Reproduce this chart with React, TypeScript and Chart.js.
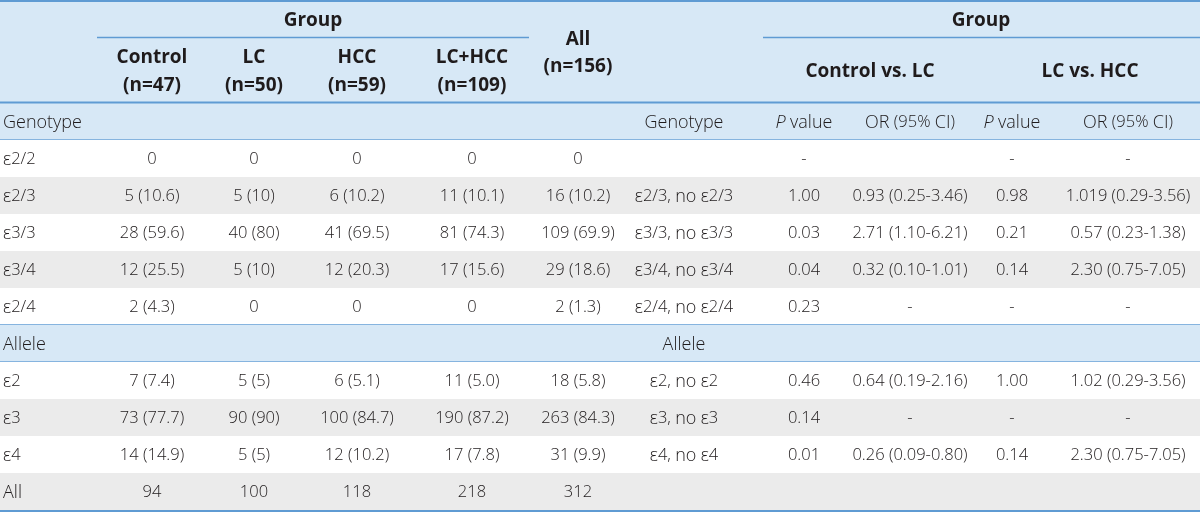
import React, { useEffect, useRef } from "react";
import { Chart, registerables } from "chart.js";

Chart.register(...registerables);

// ---------- table content ----------
const rowLabels = ["Genotype", "ε2/2", "ε2/3", "ε3/3", "ε3/4", "ε2/4", "Allele", "ε2", "ε3", "ε4", "All"];
const controlVals = ["", "0", "5 (10.6)", "28 (59.6)", "12 (25.5)", "2 (4.3)", "", "7 (7.4)", "73 (77.7)", "14 (14.9)", "94"];
const lcVals = ["", "0", "5 (10)", "40 (80)", "5 (10)", "0", "", "5 (5)", "90 (90)", "5 (5)", "100"];
const hccVals = ["", "0", "6 (10.2)", "41 (69.5)", "12 (20.3)", "0", "", "6 (5.1)", "100 (84.7)", "12 (10.2)", "118"];
const lcHccVals = ["", "0", "11 (10.1)", "81 (74.3)", "17 (15.6)", "0", "", "11 (5.0)", "190 (87.2)", "17 (7.8)", "218"];
const allVals = ["", "0", "16 (10.2)", "109 (69.9)", "29 (18.6)", "2 (1.3)", "", "18 (5.8)", "263 (84.3)", "31 (9.9)", "312"];
const comparisonLabels = ["Genotype", "", "ε2/3, no ε2/3", "ε3/3, no ε3/3", "ε3/4, no ε3/4", "ε2/4, no ε2/4", "Allele", "ε2, no ε2", "ε3, no ε3", "ε4, no ε4", ""];
const pCtrlLc = ["P value", "-", "1.00", "0.03", "0.04", "0.23", "", "0.46", "0.14", "0.01", ""];
const orCtrlLc = ["OR (95% CI)", "", "0.93 (0.25-3.46)", "2.71 (1.10-6.21)", "0.32 (0.10-1.01)", "-", "", "0.64 (0.19-2.16)", "-", "0.26 (0.09-0.80)", ""];
const pLcHcc = ["P value", "-", "0.98", "0.21", "0.14", "-", "", "1.00", "-", "0.14", ""];
const orLcHcc = ["OR (95% CI)", "-", "1.019 (0.29-3.56)", "0.57 (0.23-1.38)", "2.30 (0.75-7.05)", "-", "", "1.02 (0.29-3.56)", "-", "2.30 (0.75-7.05)", ""];

const groupHeaders = ["Group", "Group"];
const columnHeaders = [["Control", "(n=47)"], ["LC", "(n=50)"], ["HCC", "(n=59)"], ["LC+HCC", "(n=109)"]];
const allHeader = ["All", "(n=156)"];
const comparisonHeaders = ["Control vs. LC", "LC vs. HCC"];

const columns = [rowLabels, controlVals, lcVals, hccVals, lcHccVals, allVals, comparisonLabels, pCtrlLc, orCtrlLc, pLcHcc, orLcHcc];

// ---------- layout (scale units) ----------
const W = 1200;
const H = 513;
const COL_X = [3, 152, 254, 357, 472, 578, 684, 804, 910, 1012, 1128];
const HEADER_BOTTOM = 103;
const ROW_H = 37;
const SECTION_ROWS = [0, 6];
const GREY_ROWS = [2, 4, 8, 10];

const BLUE_BG = "#d7e8f6";
const GREY_BG = "#ebebeb";
const LINE = "#5f9bd3";
const LINE_LIGHT = "#86b4df";
const TEXT = "#1f1b1c";
const FONT = "'Open Sans', 'Noto Sans', sans-serif";
const NUM_SIZE = 16.5;
const LETTER_SIZE = 18;

type Run = { text: string; font: string };

const NUM_RE = /[0-9.()\-\s,=+%/]/;

function splitRuns(txt: string, italicFirst: boolean): Run[] {
  const runs: Run[] = [];
  const chars = Array.from(txt);
  chars.forEach((ch, i) => {
    const isNum = NUM_RE.test(ch);
    const italic = italicFirst && i === 0;
    const font = `${italic ? "italic " : ""}300 ${isNum ? NUM_SIZE : LETTER_SIZE}px ${FONT}`;
    const last = runs[runs.length - 1];
    if (last && last.font === font) last.text += ch;
    else runs.push({ text: ch, font });
  });
  return runs;
}

function drawRuns(ctx: CanvasRenderingContext2D, txt: string, x: number, y: number, align: "left" | "center", italicFirst: boolean) {
  const runs = splitRuns(txt, italicFirst);
  let total = 0;
  const widths = runs.map((r) => {
    ctx.font = r.font;
    const w = ctx.measureText(r.text).width;
    total += w;
    return w;
  });
  let cx = align === "center" ? x - total / 2 : x;
  ctx.textAlign = "left";
  runs.forEach((r, i) => {
    ctx.font = r.font;
    ctx.fillText(r.text, cx, y);
    cx += widths[i];
  });
}

const tablePlugin = {
  id: "tablePlugin",
  beforeDatasetsDraw(chart: any) {
    const { ctx } = chart;
    const xs = chart.scales.x;
    const ys = chart.scales.y;
    const px = (v: number) => xs.getPixelForValue(v);
    const py = (v: number) => ys.getPixelForValue(v);
    ctx.save();
    ctx.fillStyle = BLUE_BG;
    ctx.fillRect(px(0), py(0), px(W) - px(0), py(HEADER_BOTTOM) - py(0));
    for (let i = 0; i < rowLabels.length; i++) {
      const top = HEADER_BOTTOM + i * ROW_H;
      let fill = "#ffffff";
      if (SECTION_ROWS.includes(i)) fill = BLUE_BG;
      else if (GREY_ROWS.includes(i)) fill = GREY_BG;
      ctx.fillStyle = fill;
      ctx.fillRect(px(0), py(top), px(W) - px(0), py(top + ROW_H) - py(top));
    }
    const hline = (y: number, x0: number, x1: number, color: string, w: number) => {
      ctx.strokeStyle = color;
      ctx.lineWidth = w;
      ctx.beginPath();
      ctx.moveTo(px(x0), py(y));
      ctx.lineTo(px(x1), py(y));
      ctx.stroke();
    };
    hline(1, 0, W, LINE, 2);
    hline(37.5, 97, 529, LINE, 1.5);
    hline(37.5, 763, W, LINE, 1.5);
    hline(102.5, 0, W, LINE, 2);
    for (const s of SECTION_ROWS) {
      const top = HEADER_BOTTOM + s * ROW_H;
      if (s > 0) hline(top - 0.5, 0, W, LINE_LIGHT, 1);
      hline(top + ROW_H - 0.5, 0, W, LINE_LIGHT, 1);
    }
    hline(HEADER_BOTTOM + rowLabels.length * ROW_H + 1, 0, W, LINE, 2);
    ctx.restore();
  },
  afterDatasetsDraw(chart: any) {
    const { ctx } = chart;
    const xs = chart.scales.x;
    const ys = chart.scales.y;
    const px = (v: number) => xs.getPixelForValue(v);
    const py = (v: number) => ys.getPixelForValue(v);
    ctx.save();
    ctx.fillStyle = TEXT;
    ctx.textBaseline = "middle";
    ctx.font = `bold 19px ${FONT}`;
    ctx.textAlign = "center";
    ctx.fillText(groupHeaders[0], px(313), py(21));
    ctx.fillText(groupHeaders[1], px(981), py(21));
    columnHeaders.forEach((h, j) => {
      ctx.fillText(h[0], px(COL_X[j + 1]), py(58));
      ctx.fillText(h[1], px(COL_X[j + 1]), py(86));
    });
    ctx.fillText(allHeader[0], px(COL_X[5]), py(40));
    ctx.fillText(allHeader[1], px(COL_X[5]), py(67));
    ctx.fillText(comparisonHeaders[0], px(870), py(72));
    ctx.fillText(comparisonHeaders[1], px(1090), py(72));

    for (let c = 0; c < columns.length; c++) {
      for (let r = 0; r < columns[c].length; r++) {
        const txt = columns[c][r];
        if (!txt) continue;
        const cy = py(HEADER_BOTTOM + r * ROW_H + ROW_H / 2 + 1);
        const cx = px(COL_X[c]);
        drawRuns(ctx, txt, cx, cy, c === 0 ? "left" : "center", txt.startsWith("P "));
      }
    }
    ctx.restore();
  },
};

export default function App() {
  const ref = useRef<HTMLCanvasElement | null>(null);
  useEffect(() => {
    document.body.style.margin = "0";
    const canvas = ref.current!;
    const anchors = rowLabels.map((_, i) => ({ x: COL_X[0], y: HEADER_BOTTOM + i * ROW_H + ROW_H / 2 }));
    const chart = new Chart(canvas, {
      type: "scatter",
      data: {
        datasets: [
          {
            data: anchors,
            pointRadius: 0,
            showLine: false,
          },
        ],
      },
      options: {
        animation: false,
        responsive: false,
        maintainAspectRatio: false,
        layout: { padding: 0 },
        plugins: { legend: { display: false }, tooltip: { enabled: false } },
        events: [],
        scales: {
          x: { type: "linear", min: 0, max: W, display: false },
          y: { type: "linear", min: 0, max: H, reverse: true, display: false },
        },
      },
      plugins: [tablePlugin],
    });
    return () => chart.destroy();
  }, []);
  return (
    <div style={{ width: W, height: H, background: "#fff" }}>
      <canvas ref={ref} width={W} height={H} style={{ display: "block", width: W, height: H }} />
    </div>
  );
}
